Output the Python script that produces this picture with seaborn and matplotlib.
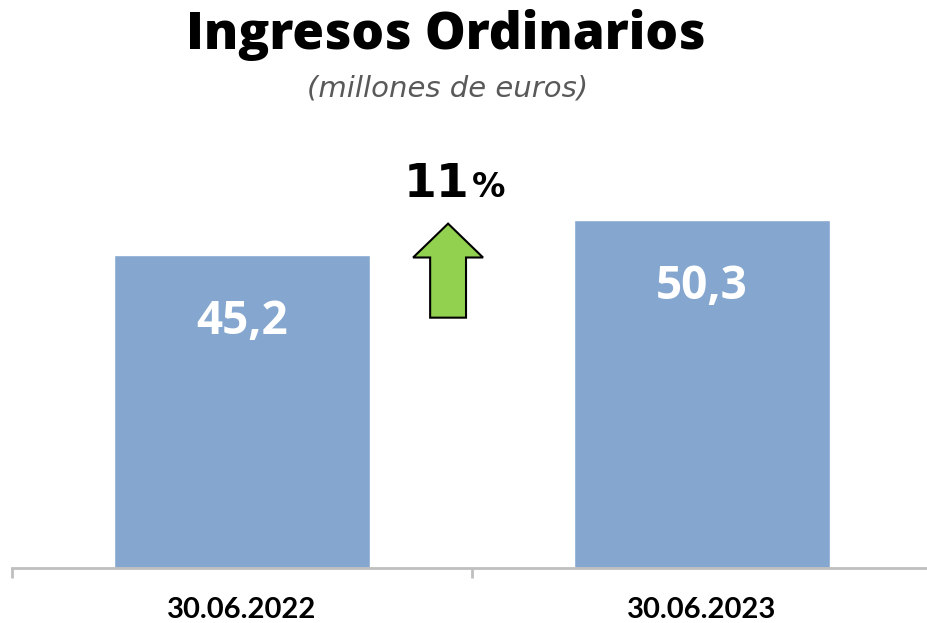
import matplotlib
matplotlib.use("Agg")
import matplotlib.pyplot as plt
import seaborn as sns
import pandas as pd
from matplotlib.ticker import FixedLocator

fechas = ["30.06.2022", "30.06.2023"]
ingresos = [45.2, 50.3]
etiquetas = ["45,2", "50,3"]
variacion = "11"

sns.set_theme(style="white")
plt.rcParams["font.family"] = ["Open Sans", "DejaVu Sans"]

df = pd.DataFrame({"fecha": fechas, "ingresos": ingresos})

fig = plt.figure(figsize=(9.28, 6.23), dpi=100)
ax = fig.add_axes([12 / 928, 55 / 623, 920 / 928, 0.666])

sns.barplot(data=df, x="fecha", y="ingresos", color="#85a7cf", saturation=1,
            width=0.556, ax=ax)

ax.set_xlim(-0.5, 1.5)
ax.set_ylim(0, 60)
ax.set_xlabel("")
ax.set_ylabel("")
ax.set_yticks([])
for s in ["top", "right", "left"]:
    ax.spines[s].set_visible(False)
ax.spines["bottom"].set_color("#bfbfbf")
ax.spines["bottom"].set_linewidth(2)

ax.xaxis.set_minor_locator(FixedLocator([-0.5, 0.5, 1.5]))
ax.tick_params(axis="x", which="major", length=0, pad=21)
ax.tick_params(axis="x", which="minor", length=7, width=2, color="#bfbfbf",
               direction="out", bottom=True)
for lbl in ax.get_xticklabels():
    lbl.set_fontfamily(["Liberation Sans Narrow", "Lato", "DejaVu Sans"])
    lbl.set_fontweight("bold")
    lbl.set_fontsize(21)
    lbl.set_color("black")

# etiquetas dentro de las barras
for p, txt in zip(ax.patches, etiquetas):
    ax.text(p.get_x() + p.get_width() / 2, p.get_height() - 9.6, txt,
            ha="center", va="center", color="white", fontsize=33,
            fontweight="bold")

# flecha de variacion
ax.arrow(0.448, 36.2, 0, 13.6, width=0.078, head_width=0.152,
         head_length=4.9, length_includes_head=True,
         facecolor="#92d050", edgecolor="black", linewidth=1.5)

fig.text(469 / 928, 1 - 197 / 623, variacion, ha="right", va="baseline",
         fontsize=34, fontweight="heavy", color="black",
         family=["DejaVu Sans"])
fig.text(472 / 928, 1 - 197 / 623, "%", ha="left", va="baseline",
         fontsize=24, fontweight="heavy", color="black",
         family=["DejaVu Sans"])

fig.text(446 / 928, 1 - 35 / 623, "Ingresos Ordinarios", ha="center",
         va="center", fontsize=37, fontweight="heavy", color="black")
fig.text(448 / 928, 1 - 88 / 623, "(millones de euros)", ha="center",
         va="center", fontsize=21, style="italic", color="#595959",
         family=["DejaVu Sans"])

fig.savefig("out.png", dpi=100)
